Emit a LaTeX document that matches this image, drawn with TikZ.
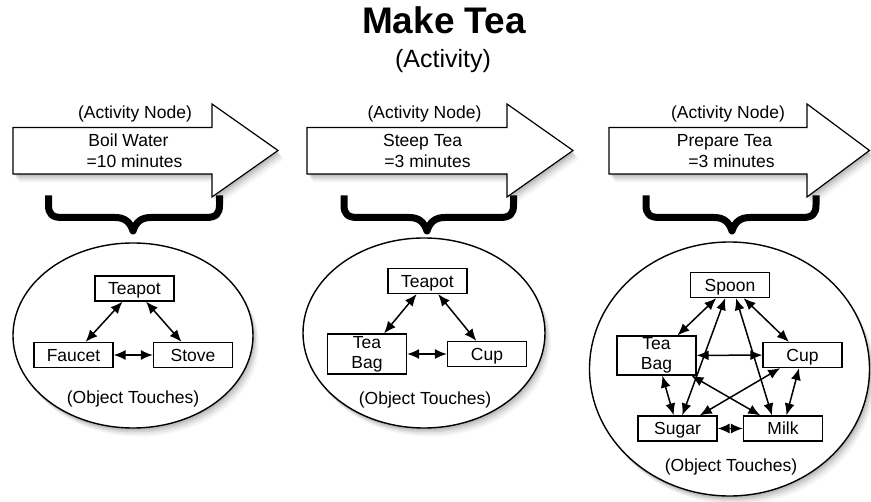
\documentclass[tikz,border=0pt]{standalone}
\usepackage{fontspec}
\setmainfont{Liberation Sans}
\usetikzlibrary{shapes.geometric,arrows.meta,shadows}
\tikzset{
  softshadow/.style={
    general shadow={shadow xshift=1.5pt,shadow yshift=-2.5pt,fill=black,opacity=.10},
    general shadow={shadow xshift=3pt,shadow yshift=-4.5pt,fill=black,opacity=.08},
    general shadow={shadow xshift=4.5pt,shadow yshift=-6.5pt,fill=black,opacity=.06},
    general shadow={shadow xshift=6pt,shadow yshift=-8.5pt,fill=black,opacity=.04}},
  lbl/.style={font=\fontsize{17.5}{20}\selectfont, inner sep=0pt, anchor=base},
  obj/.style={draw, line width=1.2pt, fill=white, minimum width=79pt, minimum height=25pt,
    inner sep=0pt, font=\fontsize{17.5}{20}\selectfont, text height=12.5pt, text depth=0pt},
  objtwo/.style={draw, line width=1.2pt, fill=white, minimum width=79pt,
    inner sep=0pt, font=\fontsize{17.5}{20}\selectfont, align=center},
  touch/.style={draw, line width=1.4pt, fill=white, ellipse, inner sep=0pt, softshadow},
  link/.style={line width=1.5pt, {Latex[length=12pt,width=10pt]}-{Latex[length=12pt,width=10pt]}},
  bracestroke/.style={line width=7pt, line join=round},
  actarrow/.style={draw, line width=1.2pt, fill=white, line join=miter, softshadow}
}
\begin{document}
\begin{tikzpicture}[x=1pt,y=-1pt]
\useasboundingbox (0,0) rectangle (871,502);

% title
\node[inner sep=0pt, anchor=base, font=\fontsize{37}{40}\selectfont\bfseries] (title) at (444,34) {Make Tea};
\node[inner sep=0pt, anchor=base, font=\fontsize{25}{28}\selectfont] (subtitle) at (443,67.5) {(Activity)};

% activity arrows
\draw[actarrow] (13,127.5) -- (212,127.5) -- (212,104) -- (278,150.5) -- (212,197) -- (212,174) -- (13,174) -- cycle;
\draw[actarrow] (307,127.5) -- (507,127.5) -- (507,104) -- (573,150.5) -- (507,197) -- (507,174) -- (307,174) -- cycle;
\draw[actarrow] (609,127.5) -- (807,127.5) -- (807,104) -- (869.5,150.5) -- (807,197) -- (807,174) -- (609,174) -- cycle;

\node[lbl] (an1) at (135,119) {(Activity Node)};
\node[lbl] (nm1) at (128.5,146.7) {Boil Water};
\node[lbl] (tm1) at (134.5,167.3) {=10 minutes};
\node[lbl] (an2) at (424.5,119) {(Activity Node)};
\node[lbl] (nm2) at (422.6,146.7) {Steep Tea};
\node[lbl] (tm2) at (427.5,167.3) {=3 minutes};
\node[lbl] (an3) at (728,119) {(Activity Node)};
\node[lbl] (nm3) at (724.5,146.7) {Prepare Tea};
\node[lbl] (tm3) at (731.5,167.3) {=3 minutes};

% braces
\draw[bracestroke] (48.5,195.5) -- (48.5,205) .. controls (48.5,214) and (52,217.5) .. (62,217.5) -- (115,217.5) .. controls (125,217.5) and (130,222) .. (133,231) .. controls (136,222) and (141,217.5) .. (151,217.5) -- (206,217.5) .. controls (216,217.5) and (219.5,214) .. (219.5,205) -- (219.5,195.5);
\draw[bracestroke] (344,195.5) -- (344,205) .. controls (344,214) and (347.5,217.5) .. (357.5,217.5) -- (409,217.5) .. controls (419,217.5) and (424,222) .. (427,231) .. controls (430,222) and (435,217.5) .. (445,217.5) -- (500,217.5) .. controls (510,217.5) and (513.5,214) .. (513.5,205) -- (513.5,195.5);
\draw[bracestroke] (646,195.5) -- (646,205) .. controls (646,214) and (649.5,217.5) .. (659.5,217.5) -- (714,217.5) .. controls (724,217.5) and (729,222) .. (732,231) .. controls (735,222) and (740,217.5) .. (750,217.5) -- (802.5,217.5) .. controls (812.5,217.5) and (816,214) .. (816,205) -- (816,195.5);

% object touches 1
\node[touch, minimum width=240pt, minimum height=185pt] (e1) at (133,335.5) {};
\node[obj] (teapot1) at (134.5,288.5) {Teapot};
\node[obj] (faucet) at (73.5,355) {Faucet};
\node[obj] (stove) at (193,355) {Stove};
\node[lbl] (ot1) at (133,404) {(Object Touches)};
\draw[link] (teapot1) -- (faucet);
\draw[link] (teapot1) -- (stove);
\draw[link] (faucet) -- (stove);

% object touches 2
\node[touch, minimum width=242pt, minimum height=190pt] (e2) at (424,333) {};
\node[obj] (teapot2) at (427.5,281) {Teapot};
\node[objtwo, minimum height=40pt] (teabag2) at (367,354) {Tea\\Bag};
\node[obj] (cup2) at (487,354) {Cup};
\node[lbl] (ot2) at (425,405) {(Object Touches)};
\draw[link] (teapot2) -- (teabag2);
\draw[link] (teapot2) -- (cup2);
\draw[link] (teabag2) -- (cup2);

% object touches 3
\node[touch, minimum width=280pt, minimum height=254pt] (e3) at (729.5,369) {};
\node[obj] (spoon) at (730,285) {Spoon};
\node[objtwo, minimum height=39pt] (teabag3) at (656.5,355.5) {Tea\\Bag};
\node[obj] (cup3) at (802.5,355) {Cup};
\node[obj] (sugar) at (677.5,428.5) {Sugar};
\node[obj] (milk) at (783,428.5) {Milk};
\node[lbl] (ot3) at (731,472) {(Object Touches)};
\draw[link] (spoon) -- (teabag3);
\draw[link] (spoon) -- (cup3);
\draw[link] (spoon) -- (sugar);
\draw[link] ([xshift=6pt]spoon.south) -- ([xshift=-11pt]milk.north);
\draw[link] (teabag3) -- (cup3);
\draw[link] (teabag3) -- (sugar);
\draw[link] (teabag3) -- (milk);
\draw[link] (cup3) -- (sugar);
\draw[link] (cup3) -- (milk);
\draw[link] (sugar) -- (milk);
\end{tikzpicture}
\end{document}
